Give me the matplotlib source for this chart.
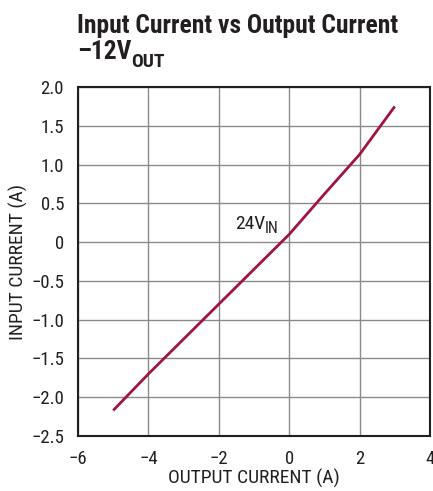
import matplotlib
matplotlib.use("Agg")
import matplotlib.pyplot as plt

FONT = 'Roboto Condensed'
plt.rcParams['font.family'] = [FONT, 'DejaVu Sans']
plt.rcParams['axes.unicode_minus'] = False

# Data
output_current = [-5, -4, -3, -2, -1, 0, 1, 2, 3]
input_current = [-2.17, -1.70, -1.25, -0.80, -0.35, 0.10, 0.62, 1.13, 1.75]
x_ticks = [-6, -4, -2, 0, 2, 4]
x_labels = ['\u22126', '\u22124', '\u22122', '0', '2', '4']
y_ticks = [-2.5, -2.0, -1.5, -1.0, -0.5, 0, 0.5, 1.0, 1.5, 2.0]
y_labels = ['\u22122.5', '\u22122.0', '\u22121.5', '\u22121.0', '\u22120.5', '0', '0.5', '1.0', '1.5', '2.0']

TXT = '#231f20'
W, H = 433, 491
fig = plt.figure(figsize=(W/100, H/100), dpi=100)
ax = fig.add_axes([78/W, 1-436/H, (430-78)/W, (436-87)/H])

ax.plot(output_current, input_current, color='#A0153E', lw=2.0, solid_capstyle='butt')

ax.set_xlim(-6, 4)
ax.set_ylim(-2.5, 2.0)
ax.set_xticks(x_ticks)
ax.set_xticklabels(x_labels)
ax.set_yticks(y_ticks)
ax.set_yticklabels(y_labels)
ax.tick_params(length=0, labelsize=13.5, colors=TXT)
ax.tick_params(axis='y', pad=10)
ax.tick_params(axis='x', pad=10)
ax.grid(True, color='#8a8a8a', lw=1.0)
ax.set_axisbelow(True)
for s in ax.spines.values():
    s.set_linewidth(1.5)
    s.set_color(TXT)

ax.set_xlabel('OUTPUT CURRENT (A)', fontsize=14, color=TXT, labelpad=1)
ax.set_ylabel('INPUT CURRENT (A)', fontsize=14, color=TXT, labelpad=2)

def sub_text(x, y, base, sub, size, subsize, drop_px, weight='normal'):
    """Place base text (baseline at pixel x,y from top-left) and subscript after it."""
    t = fig.text(x/W, 1-y/H, base, fontsize=size, fontweight=weight, color=TXT,
                 ha='left', va='baseline')
    fig.canvas.draw()
    bb = t.get_window_extent()
    fig.text(bb.x1/W, 1-(y+drop_px)/H, sub, fontsize=subsize, fontweight=weight,
             color=TXT, ha='left', va='baseline')

fig.text(77/W, 1-33/H, 'Input Current vs Output Current', fontsize=18.4, fontweight='bold',
         ha='left', va='baseline', color=TXT)
sub_text(77, 59, '\u201312V', 'OUT', 18.4, 14, 8, weight='bold')
sub_text(235, 229, '24V', 'IN', 14, 11.5, 4)

fig.savefig('out.png', dpi=100)
